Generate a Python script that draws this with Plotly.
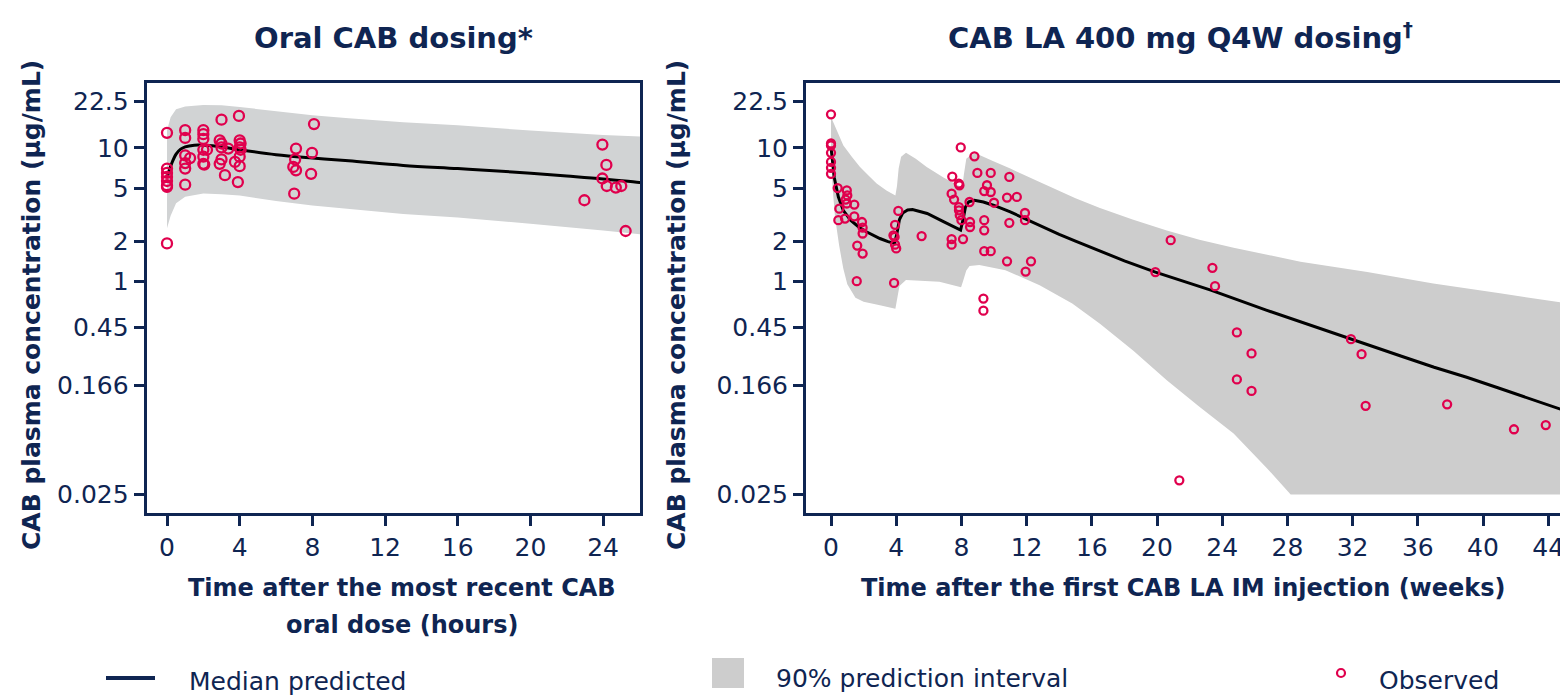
import plotly.graph_objects as go
import math

# ---------------- data: oral dosing (hours) ----------------
oral_obs_t = [0, 0, 0, 0, 0, 0, 0, 0,
              1.0, 1.0, 1.0, 1.27, 1.0, 1.0, 1.0,
              2.0, 2.0, 2.0, 2.0, 2.2, 2.0, 2.0, 2.05,
              3.0, 2.9, 3.0, 3.0, 3.37, 3.0, 2.9, 3.19,
              3.96, 4.0, 4.05, 4.0, 4.05, 4.0, 3.74, 4.0, 3.9,
              7.1, 7.05, 6.95, 7.1, 7.0,
              8.09, 7.98, 7.93,
              22.97, 23.96, 24.18, 23.96, 24.2, 24.7, 25.0, 25.24]
oral_obs_c = [13.0, 7.0, 6.5, 6.06, 5.65, 5.25, 5.1, 1.92,
              13.6, 11.9, 8.8, 8.4, 7.7, 7.0, 5.3,
              13.6, 12.7, 11.7, 9.7, 9.7, 8.6, 7.6, 7.5,
              16.3, 11.4, 10.8, 10.1, 9.9, 8.2, 7.6, 6.25,
              17.4, 11.4, 10.8, 10.1, 9.7, 8.6, 7.86, 7.3, 5.55,
              9.9, 8.2, 7.2, 6.8, 4.54,
              15.1, 9.2, 6.4,
              4.05, 10.6, 7.46, 5.9, 5.18, 5.04, 5.18, 2.38]

oral_med_t = [0, 0.1, 0.25, 0.5, 0.75, 1.0, 1.5, 2, 2.5, 3, 4, 6, 8, 10, 13, 16, 19, 22, 24, 26, 26.5]
oral_med_c = [6.0, 6.6, 7.6, 9.0, 9.8, 10.2, 10.5, 10.5, 10.4, 10.2, 9.7, 8.9, 8.4, 8.0, 7.4, 7.0, 6.6, 6.15, 5.85, 5.5, 5.45]

oral_pi_t = [0, 0.2, 0.5, 1, 2, 3, 4, 6, 8, 10, 13, 16, 20, 24, 26, 26.5]
oral_pi_hi = [13.5, 17.0, 19.5, 20.5, 21.0, 20.9, 20.3, 18.8, 17.6, 16.7, 15.6, 14.8, 13.5, 12.5, 12.2, 12.1]
oral_pi_lo = [2.5, 3.1, 3.85, 4.3, 4.55, 4.5, 4.4, 4.0, 3.7, 3.5, 3.2, 3.0, 2.7, 2.4, 2.25, 2.22]

# ---------------- data: LA dosing (weeks) ----------------
la_obs_t = [0, 0, 0, 0, 0, 0, 0,
            0.41, 0.97, 1.0, 0.9, 0.97, 0.51, 0.45, 0.86,
            1.43, 1.43, 1.9, 1.94, 1.94, 1.61, 1.94, 1.58,
            4.13, 3.93, 3.83, 3.9, 3.93, 4.0, 3.87, 5.56,
            7.44, 7.84, 7.88, 7.4, 7.55, 7.85, 7.85, 7.9, 8.0, 7.4, 7.4, 8.1,
            7.96, 8.5, 8.8, 8.98, 9.8, 9.57, 9.4, 9.8, 10.0, 10.94, 10.8, 11.4,
            8.53, 8.53, 9.4, 9.4, 9.4, 9.8, 10.94, 11.9, 11.9,
            10.8, 12.27, 11.94, 9.35, 9.35,
            20.84, 19.9, 23.4, 23.56, 24.9, 25.8, 24.9, 25.8, 21.37,
            31.9, 32.55, 32.8, 37.8, 41.9, 43.85]
la_obs_c = [17.9, 10.8, 10.45, 9.2, 7.86, 7.1, 6.4,
            5.0, 4.8, 4.4, 4.1, 3.83, 3.5, 2.87, 2.95,
            3.76, 3.07, 2.78, 2.52, 2.28, 1.85, 1.61, 1.0,
            3.37, 2.65, 2.21, 2.15, 1.88, 1.76, 0.97, 2.18,
            6.1, 5.4, 5.25, 4.54, 4.1, 3.6, 3.4, 3.13, 2.87, 2.07, 1.88, 2.07,
            10.1, 3.93, 8.65, 6.5, 6.5, 5.25, 4.75, 4.67, 3.88, 6.06, 4.24, 4.29,
            2.78, 2.55, 2.87, 2.41, 1.68, 1.68, 2.74, 3.25, 2.87,
            1.41, 1.41, 1.18, 0.74, 0.6,
            2.03, 1.17, 1.26, 0.917, 0.412, 0.287, 0.183, 0.150, 0.032,
            0.367, 0.283, 0.116, 0.119, 0.0773, 0.0831]

la_med_t = [0, 0.1, 0.2, 0.45, 0.75, 1.2, 1.7, 2.2, 3.0, 3.5, 3.9, 4.05, 4.2, 4.4, 4.7, 5.0,
            5.9, 6.9, 7.6, 7.95, 8.1, 8.25, 8.45, 8.8, 9.35, 10.0, 11.0, 12.0, 13.0, 14.0,
            15.0, 16.0, 17.0, 18.0, 19.9, 23.3, 26.7, 30.0, 32.0, 35.0, 37.0, 39.0, 41.0,
            43.0, 45.2, 46]
la_med_c = [10.1, 7.5, 6.0, 4.3, 3.4, 2.87, 2.55, 2.34, 2.09, 1.98, 1.92, 2.3, 2.9, 3.25, 3.42, 3.45,
            3.22, 2.8, 2.55, 2.42, 2.9, 3.6, 3.95, 4.05, 3.93, 3.7, 3.31, 2.9, 2.55, 2.25,
            2.0, 1.78, 1.59, 1.42, 1.17, 0.856, 0.606, 0.441, 0.36, 0.273, 0.226, 0.19, 0.157,
            0.13, 0.105, 0.097]

la_pi_hi_t = [0, 0.4, 0.76, 1.3, 1.78, 2.3, 2.8, 3.4, 3.95, 4.05, 4.15, 4.3, 4.6, 5.2, 5.87, 6.9,
              7.5, 8.05, 8.15, 8.3, 8.6, 8.9, 10.0, 11.0, 13.0, 15.0, 16.5, 18.5, 20.6, 22.6,
              24.7, 28.8, 32.9, 36.95, 41.04, 45.2, 46]
la_pi_hi = [17.1, 13.3, 10.45, 8.5, 7.2, 6.2, 5.4, 4.8, 4.4, 5.2, 7.0, 8.6, 9.2, 8.3, 7.2, 6.0,
            5.5, 5.05, 6.3, 8.3, 8.9, 9.1, 7.9, 7.0, 5.4, 4.2, 3.55, 2.9, 2.4, 2.05,
            1.78, 1.40, 1.17, 0.96, 0.81, 0.68, 0.66]

la_pi_lo_t = [0, 0.1, 0.25, 0.5, 0.75, 1.0, 1.5, 2.0, 3.0, 3.95, 4.05, 4.2, 4.6, 5.5, 6.65, 7.98,
              8.1, 8.3, 8.5, 9.1, 10.7, 12.8, 14.8, 16.5, 18.55, 20.6, 22.6, 24.7, 26.7, 28.2,
              30, 35, 40, 46]
la_pi_lo = [9.0, 5.0, 3.0, 1.85, 1.25, 0.95, 0.75, 0.70, 0.66, 0.62, 0.75, 0.92, 1.02, 1.0, 0.99, 0.90,
            1.0, 1.2, 1.3, 1.32, 1.21, 0.93, 0.68, 0.48, 0.30, 0.18, 0.114, 0.072, 0.040, 0.025,
            0.025, 0.025, 0.025, 0.025]

y_tickvals = [0.025, 0.166, 0.45, 1, 2, 5, 10, 22.5]
y_ticktext = ["0.025", "0.166", "0.45", "1", "2", "5", "10", "22.5"]
oral_xticks = [0, 4, 8, 12, 16, 20, 24]
la_xticks = [0, 4, 8, 12, 16, 20, 24, 28, 32, 36, 40, 44]

# ---------------- styling ----------------
NAVY = "#0F2552"
RED = "#E0004D"
FONT = "DejaVu Sans"
OFF = 8                      # page body margin in the browser
W, H = 1568 - OFF, 697 - OFF
PLOT_TOP, PLOT_BOT = 83, 513  # screen pixels
MT = PLOT_TOP - OFF
MB = H - (PLOT_BOT - OFF)
PH = H - MT - MB

def px(x):
    return (x - OFF) / W

def py(y):
    return ((PLOT_BOT - OFF) - (y - OFF)) / PH

fig = go.Figure()

# oral band
fig.add_trace(go.Scatter(
    x=oral_pi_t + oral_pi_t[::-1], y=oral_pi_hi + oral_pi_lo[::-1],
    fill="toself", fillcolor="#D1D3D4", line=dict(width=0), mode="lines",
    hoverinfo="skip", showlegend=False, xaxis="x", yaxis="y"))
fig.add_trace(go.Scatter(
    x=oral_med_t, y=oral_med_c, mode="lines", line=dict(color="black", width=3, shape="spline"),
    showlegend=False, xaxis="x", yaxis="y"))
fig.add_trace(go.Scatter(
    x=oral_obs_t, y=oral_obs_c, mode="markers",
    marker=dict(symbol="circle-open", size=10, color=RED, line=dict(width=2.3, color=RED)),
    showlegend=False, xaxis="x", yaxis="y"))

# LA band
fig.add_trace(go.Scatter(
    x=la_pi_hi_t + la_pi_lo_t[::-1], y=la_pi_hi + la_pi_lo[::-1],
    fill="toself", fillcolor="#CDCDCD", line=dict(width=0), mode="lines",
    hoverinfo="skip", showlegend=False, xaxis="x2", yaxis="y2"))
fig.add_trace(go.Scatter(
    x=la_med_t, y=la_med_c, mode="lines", line=dict(color="black", width=3),
    showlegend=False, xaxis="x2", yaxis="y2"))
fig.add_trace(go.Scatter(
    x=la_obs_t, y=la_obs_c, mode="markers",
    marker=dict(symbol="circle-open", size=8, color=RED, line=dict(width=2.3, color=RED)),
    showlegend=False, xaxis="x2", yaxis="y2"))

yr = [math.log10(0.01818), math.log10(30.74)]
axis_common = dict(showline=True, linecolor=NAVY, linewidth=3, ticks="outside", ticklen=10,
                   tickwidth=3, tickcolor=NAVY, showgrid=False, zeroline=False,
                   tickfont=dict(family=FONT, size=25, color=NAVY))

fig.update_layout(
    width=W, height=H, margin=dict(l=0, r=0, t=MT, b=MB),
    plot_bgcolor="white", paper_bgcolor="white", showlegend=False,
    font=dict(family=FONT, color=NAVY),
    xaxis=dict(domain=[px(146.7), px(640)], range=[-1.117, 26.03], tickvals=oral_xticks,
               mirror=True, anchor="y", **axis_common),
    yaxis=dict(type="log", range=yr, tickvals=y_tickvals, ticktext=y_ticktext,
               mirror=True, anchor="x", **axis_common),
    xaxis2=dict(domain=[px(806), 1.0], range=[(806 - 831) / 16.3, (1568 - 831) / 16.3],
                tickvals=la_xticks, mirror=True, anchor="y2", **axis_common),
    yaxis2=dict(type="log", range=yr, tickvals=y_tickvals, ticktext=y_ticktext,
                mirror=False, anchor="x2", **axis_common),
)

ann = []
def add_text(text, x, y, size, bold=False, xanchor="center", angle=0):
    ann.append(dict(text=("<b>%s</b>" % text) if bold else text, x=px(x), y=py(y),
                    xref="paper", yref="paper", xanchor=xanchor, yanchor="middle",
                    showarrow=False, textangle=angle,
                    font=dict(family=FONT, size=size, color=NAVY)))

add_text("Oral CAB dosing*", 393, 38, 29, bold=True)
add_text("CAB LA 400 mg Q4W dosing<sup>†</sup>", 1180, 36, 29, bold=True)
add_text("CAB plasma concentration (µg/mL)", 31, 305, 25, bold=True, angle=-90)
add_text("CAB plasma concentration (µg/mL)", 676, 305, 25, bold=True, angle=-90)
add_text("Time after the most recent CAB", 402, 588, 24, bold=True)
add_text("oral dose (hours)", 402, 625, 24, bold=True)
add_text("Time after the first CAB LA IM injection (weeks)", 1183, 588, 24, bold=True)
add_text("Median predicted", 187, 681, 25, xanchor="left")
add_text("90% prediction interval", 774, 678, 25, xanchor="left")
add_text("Observed", 1377, 680, 25, xanchor="left")
fig.update_layout(annotations=ann)

shapes = [
    dict(type="line", xref="paper", yref="paper", x0=px(106), x1=px(155), y0=py(678), y1=py(678),
         line=dict(color=NAVY, width=4)),
    dict(type="rect", xref="paper", yref="paper", x0=px(712), x1=px(744), y0=py(658), y1=py(688),
         fillcolor="#CDCDCD", line=dict(width=0)),
    dict(type="circle", xref="paper", yref="paper", x0=px(1337), x1=px(1345), y0=py(669), y1=py(677),
         line=dict(color=RED, width=2.2)),
]
fig.update_layout(shapes=shapes)

fig.write_html("out.html")
